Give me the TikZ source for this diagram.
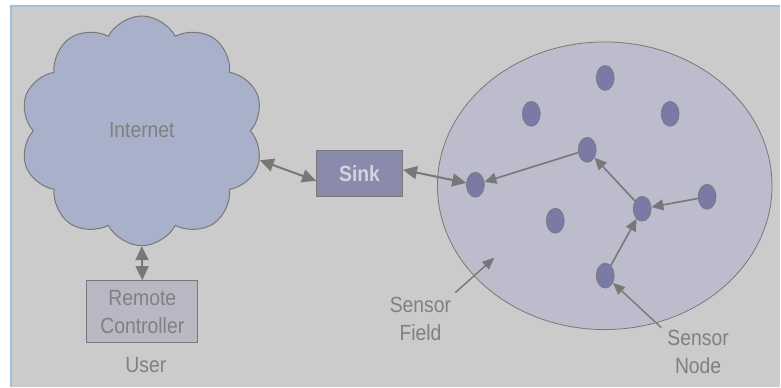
\documentclass[tikz,border=0pt]{standalone}
\usepackage{fontspec}
\setmainfont{Liberation Sans}[FakeStretch=0.88]
\usetikzlibrary{shapes.symbols,shapes.geometric,arrows.meta}

\definecolor{panel}{RGB}{203,203,203}
\definecolor{frameblue}{RGB}{160,190,225}
\definecolor{cloudfill}{RGB}{168,176,202}
\definecolor{edgegray}{RGB}{120,120,120}
\definecolor{labelgray}{RGB}{128,128,128}
\definecolor{sinkfill}{RGB}{138,138,172}
\definecolor{sinktext}{RGB}{212,212,222}
\definecolor{fieldfill}{RGB}{188,188,205}
\definecolor{motefill}{RGB}{122,122,166}
\definecolor{userfill}{RGB}{184,184,196}

\tikzset{
  lbl/.style={text=labelgray, font=\fontsize{22}{28}\selectfont, align=center, inner sep=0pt},
  mote/.style={ellipse, fill=motefill, draw=edgegray, line width=0.6pt,
               minimum width=18pt, minimum height=25pt, inner sep=0pt},
  link/.style={draw=edgegray, line width=1.6pt, -{Triangle[length=12pt,width=11pt]}},
  duplex/.style={draw=edgegray, line width=2pt,
                 {Triangle[length=14pt,width=13pt]}-{Triangle[length=14pt,width=13pt]}},
  pointer/.style={draw=edgegray, line width=1.4pt, -{Triangle[length=12pt,width=10pt]}},
}

\begin{document}
\begin{tikzpicture}[x=1pt,y=-1pt]
  % canvas and frame
  \fill[white] (0,0) rectangle (781,387);
  \fill[panel] (11,6) rectangle (781,387);
  \draw[frameblue, line width=2pt] (11,387) -- (11,6) -- (781,6);
  \useasboundingbox (0,0) rectangle (781,387);

  % internet cloud
  \node[cloud, cloud puffs=10, cloud puff arc=125, aspect=1.05,
        fill=cloudfill, draw=edgegray, line width=1pt,
        minimum width=244pt, minimum height=230pt, inner sep=0pt]
        (inet) at (142,131) {};
  \node[lbl] (inettxt) at (142,130) {Internet};

  % sink
  \node[fill=sinkfill, draw=edgegray, line width=1pt,
        minimum width=86pt, minimum height=46pt, inner sep=0pt,
        text=sinktext, font=\fontsize{22}{24}\selectfont\bfseries]
        (sink) at (360,174) {Sink};

  % remote controller
  \node[fill=userfill, draw=edgegray, line width=1pt,
        minimum width=111pt, minimum height=62pt, inner sep=0pt,
        text=labelgray, font=\fontsize{22}{28}\selectfont, align=center]
        (remote) at (142.5,312) {Remote\\Controller};
  \node[lbl] (user) at (146,366) {User};

  % sensor field
  \node[ellipse, fill=fieldfill, draw=edgegray, line width=0.8pt,
        minimum width=335pt, minimum height=288pt, inner sep=0pt]
        (field) at (605.5,186) {};

  % sensor nodes
  \node[mote] (n1) at (606,78) {};
  \node[mote] (n2) at (532,114) {};
  \node[mote] (n3) at (671,114) {};
  \node[mote] (n4) at (588,150) {};
  \node[mote] (n5) at (476,185) {};
  \node[mote] (n6) at (708,197) {};
  \node[mote] (n7) at (643,209) {};
  \node[mote] (n8) at (556,221) {};
  \node[mote] (n9) at (606,276) {};

  % multi-hop routes toward the sink
  \draw[link] (n4) -- (n5);
  \draw[link] (n7) -- (n4);
  \draw[link] (n6) -- (n7);
  \draw[link] (n9) -- (n7);

  % two-way links
  \draw[duplex] (inet.-14) -- ([yshift=-7pt]sink.west);
  \draw[duplex] ([yshift=4pt]sink.east) -- (n5);
  \draw[duplex] (inet.south) -- (remote.north);

  % callouts
  \node[lbl] (fieldlbl) at (421,319) {Sensor\\Field};
  \coordinate (fieldpt) at (495,258);
  \draw[pointer] ([xshift=4pt,yshift=4pt]fieldlbl.north east) -- (fieldpt);

  \node[lbl] (nodelbl) at (699,352) {Sensor\\Node};
  \draw[pointer] ([xshift=-6pt,yshift=2pt]nodelbl.north west) -- (n9);
\end{tikzpicture}
\end{document}
